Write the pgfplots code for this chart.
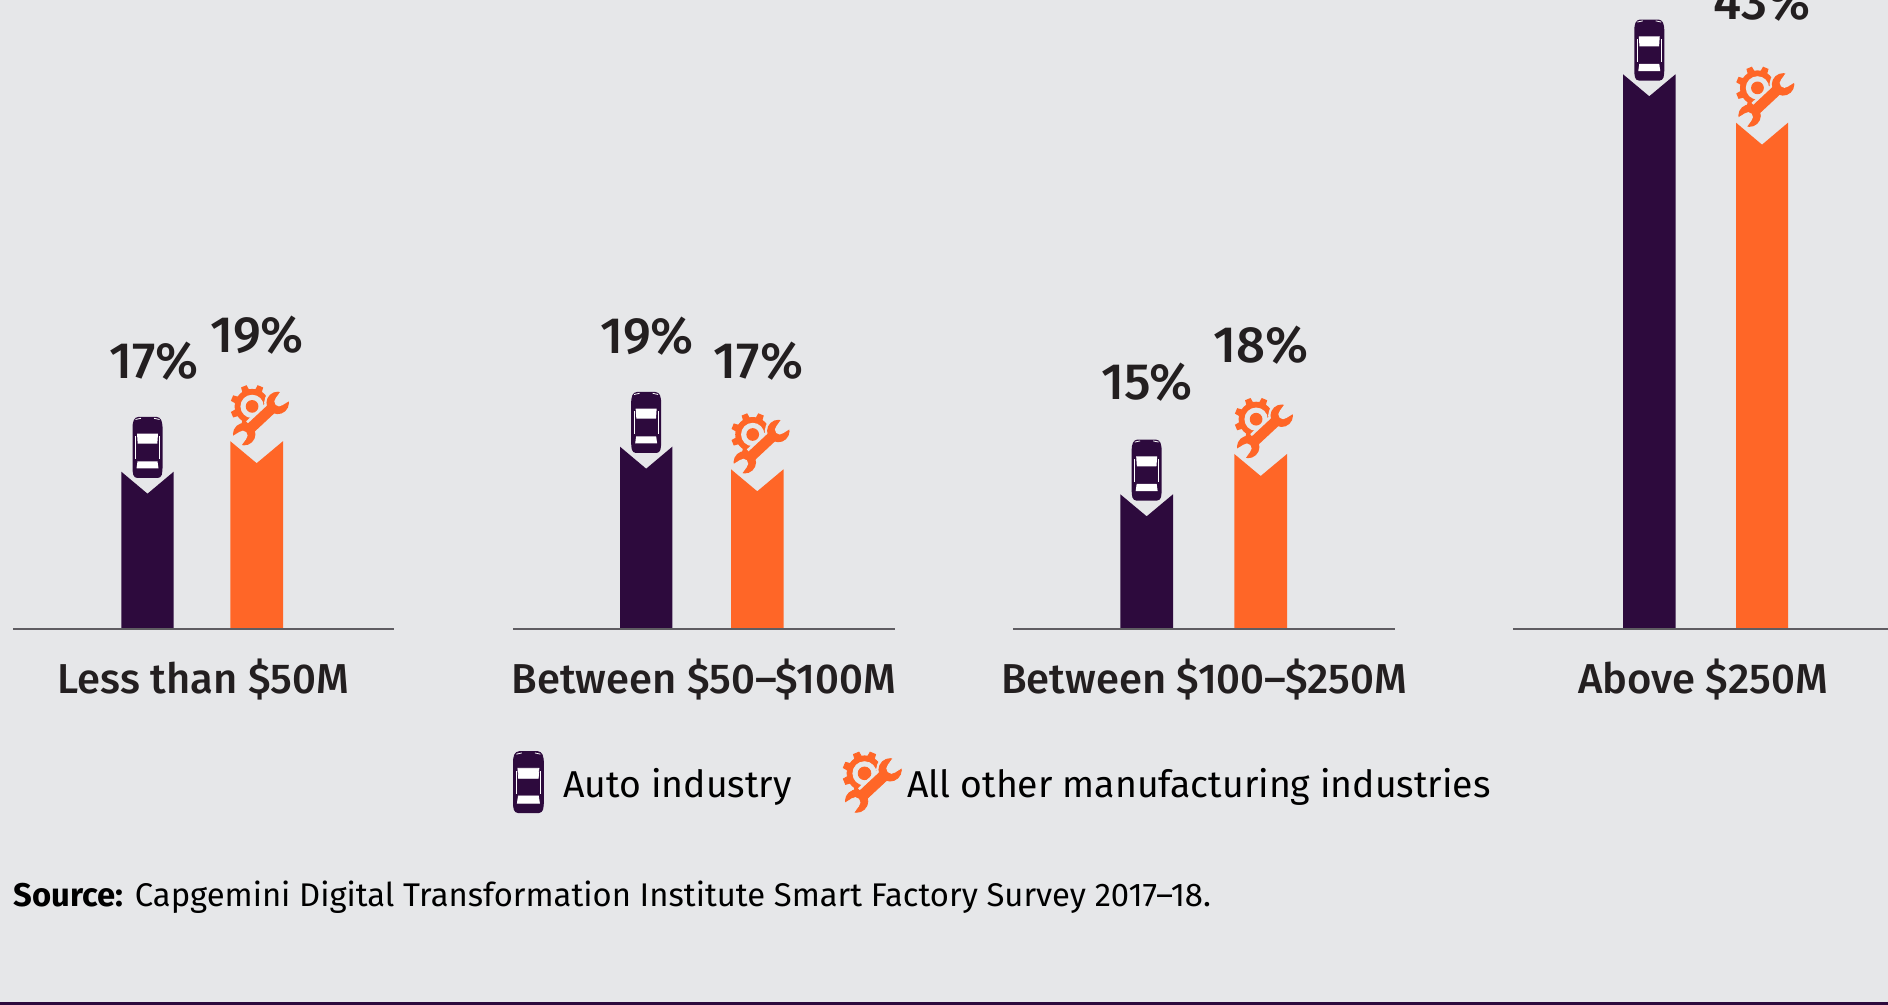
\documentclass[border=0pt]{standalone}
\usepackage{pgfplots}
\pgfplotsset{compat=1.18}
\usepackage{fontspec}
\setmainfont{Fira Sans}
\newfontfamily\medfont[Ligatures=TeX]{Fira Sans Medium}
\definecolor{bgc}{HTML}{E6E7E9}
\definecolor{purp}{HTML}{2D0A3D}
\definecolor{oran}{HTML}{FF6627}
\definecolor{ink}{HTML}{231F20}
\definecolor{rulec}{HTML}{5F5D62}
\newcommand{\carshape}{%
  \begin{scope}[x=0.5pt,y=-0.5pt]
    \fill[purp,rounded corners=1.6pt] (-12.5,-30.5)--(12.5,-30.5)--(15,-24)--(15,24)--(13.5,30.5)--(-13.5,30.5)--(-15,24)--(-15,-24)--cycle;
    \fill[white] (-10.5,-13.8)--(10.5,-13.8)--(9.8,-3.8)--(-9.8,-3.8)--cycle;
    \fill[white] (-10,13.8)--(10,13.8)--(11,21)--(-11,21)--cycle;
    \draw[white,line width=0.35pt] (-12,-11)--(-12,12) (12,-11)--(12,12);
    \draw[white,line width=0.4pt] (-12,-28)--(-6.5,-29.2) (12,-28)--(6.5,-29.2);
  \end{scope}}
\newcommand{\gearshape}{%
  \begin{scope}[x=0.53pt,y=0.53pt]
    \begin{scope}[shift={(-7.5,8.3)}]
      \fill[oran] (0,0) circle (16.5);
      \foreach \a in {0,45,...,315}{\fill[oran,rotate=\a+22.5] (-3.6,14)--(3.6,14)--(2.8,20.5)--(-2.8,20.5)--cycle;}
      \fill[bgc] (0,0) circle (11);
      \fill[oran] (0,0) circle (6);
    \end{scope}
    \begin{scope}[shift={(0.85,-3.15)},rotate=43]
      \fill[bgc] (-12,-7.6) rectangle (21.6,7.6);
      \fill[bgc] (21.6,0) circle (12.8);
      \fill[oran] (-21.6,-5) rectangle (21.6,5);
      \fill[oran] (21.6,0) circle (10.6);
      \fill[oran] (-21.6,0) circle (10.6);
      \fill[bgc] (23.5,0) circle (4.6);
      \fill[bgc] (23.5,-4.6)--(33,-6.5)--(33,6.5)--(23.5,4.6)--cycle;
      \fill[bgc] (-23.5,0) circle (4.6);
      \fill[bgc] (-23.5,-4.6)--(-33,-6.5)--(-33,6.5)--(-23.5,4.6)--cycle;
    \end{scope}
  \end{scope}}
\newsavebox\carbox
\newsavebox\gearbox
\pgfdeclareplotmark{car}{\pgftext[at={\pgfpoint{0pt}{12.1pt}}]{\usebox\carbox}}
\pgfdeclareplotmark{gearwrench}{\pgftext[at={\pgfpoint{1.7pt}{13pt}}]{\usebox\gearbox}}
\begin{document}
\sbox\carbox{\begin{tikzpicture}\useasboundingbox (-10pt,-17pt) rectangle (10pt,17pt);\carshape\end{tikzpicture}}%
\sbox\gearbox{\begin{tikzpicture}\useasboundingbox (-16pt,-17pt) rectangle (16pt,17pt);\gearshape\end{tikzpicture}}%
\begin{tikzpicture}
\path[use as bounding box,clip] (0,-188.15pt) rectangle (944pt,314.35pt);
\fill[bgc] (0,-188.15pt) rectangle (944pt,314.35pt);
\begin{axis}[
  at={(0,0)},anchor=south west,
  scale only axis,width=944pt,height=314.35pt,
  xmin=0,xmax=1888,ymin=0,ymax=628.7,
  clip=false,
  axis line style={draw=none},
  major tick length=0pt,
  ytick=\empty,
  xtick={203.5,704,1204,1703},
  xticklabels={Less than \$50M,Between \$50--\$100M,Between \$100--\$250M,Above \$250M},
  xticklabel style={font=\medfont\fontsize{20.9}{24}\selectfont,text=ink,anchor=base,yshift=-32.6pt,inner sep=0pt},
  unbounded coords=jump,
  legend columns=4,
  legend style={at={(axis cs:513,-154.3)},anchor=west,draw=none,fill=none,inner sep=0pt,outer sep=0pt,
    font=\fontsize{18.7}{23}\selectfont,text=black,
    nodes={inner sep=0pt},
    /tikz/every even column/.append style={column sep=25.5pt}},
]
% bars: chevron-topped polygons (x in px, height in px above baseline)
\addplot[fill=purp,draw=none,forget plot] coordinates {
 (121.3,0)(121.3,157)(147.5,135)(173.7,157)(173.7,0) (nan,nan)
 (620,0)(620,182)(646.15,160)(672.3,182)(672.3,0) (nan,nan)
 (1120.3,0)(1120.3,134.4)(1146.65,112.4)(1173,134.4)(1173,0) (nan,nan)
 (1623,0)(1623,554.4)(1649.25,532.4)(1675.5,554.4)(1675.5,0)};
\addplot[fill=oran,draw=none,forget plot] coordinates {
 (230.3,0)(230.3,187.5)(256.65,165.5)(283,187.5)(283,0) (nan,nan)
 (731,0)(731,159.4)(757.25,137.4)(783.5,159.4)(783.5,0) (nan,nan)
 (1234.3,0)(1234.3,174.7)(1260.65,152.7)(1287,174.7)(1287,0) (nan,nan)
 (1736,0)(1736,506)(1762,484)(1788,506)(1788,0)};
% group base lines
\addplot[draw=rulec,line width=0.85pt,forget plot] coordinates {
 (13,0)(394,0) (nan,nan) (513,0)(895,0) (nan,nan) (1013,0)(1395,0) (nan,nan) (1513,0)(1888,0)};
% icons
\addplot[only marks,mark=car,legend image code/.code={\path[draw=none,fill=none] (-7.5pt,0) rectangle (17.5pt,1pt);\begin{scope}[yshift=1pt]\carshape\end{scope}}] coordinates {
 (147.5,157)(646.15,182)(1146.65,134.4)(1649.25,554.4)};
\addlegendentry{Auto industry}
\addplot[only marks,mark=gearwrench,legend image code/.code={\path[draw=none,fill=none] (-14.5pt,0) rectangle (17.5pt,1pt);\begin{scope}[yshift=1pt]\gearshape\end{scope}}] coordinates {
 (256.65,187.5)(757.25,159.4)(1260.65,174.7)(1762,506)};
\addlegendentry{All other manufacturing industries}
% value labels
\addplot[only marks,mark=none,forget plot,point meta=explicit,
  nodes near coords={\pgfmathprintnumber[assume math mode=true,precision=0]{\pgfplotspointmeta}\%},
  every node near coord/.append style={font=\medfont\fontsize{25.5}{28}\selectfont,text=ink,anchor=base,inner sep=0pt}]
 table[x=x,y=y,meta=v] {
 x y v
 154 250.2 17
 257 276.2 19
 647 275.2 19
 758.5 250.2 17
 1147 229.2 15
 1261 266.2 18
 1762 609.2 43
};
\node[anchor=base west,inner sep=0pt,font=\fontsize{16.4}{19}\selectfont,text=black] at (axis cs:13,-277.3) {\textbf{Source:} Capgemini Digital Transformation Institute Smart Factory Survey 2017--18.};
\end{axis}
\fill[purp] (0,-188.15pt) rectangle (944pt,-186.7pt);
\end{tikzpicture}
\end{document}
